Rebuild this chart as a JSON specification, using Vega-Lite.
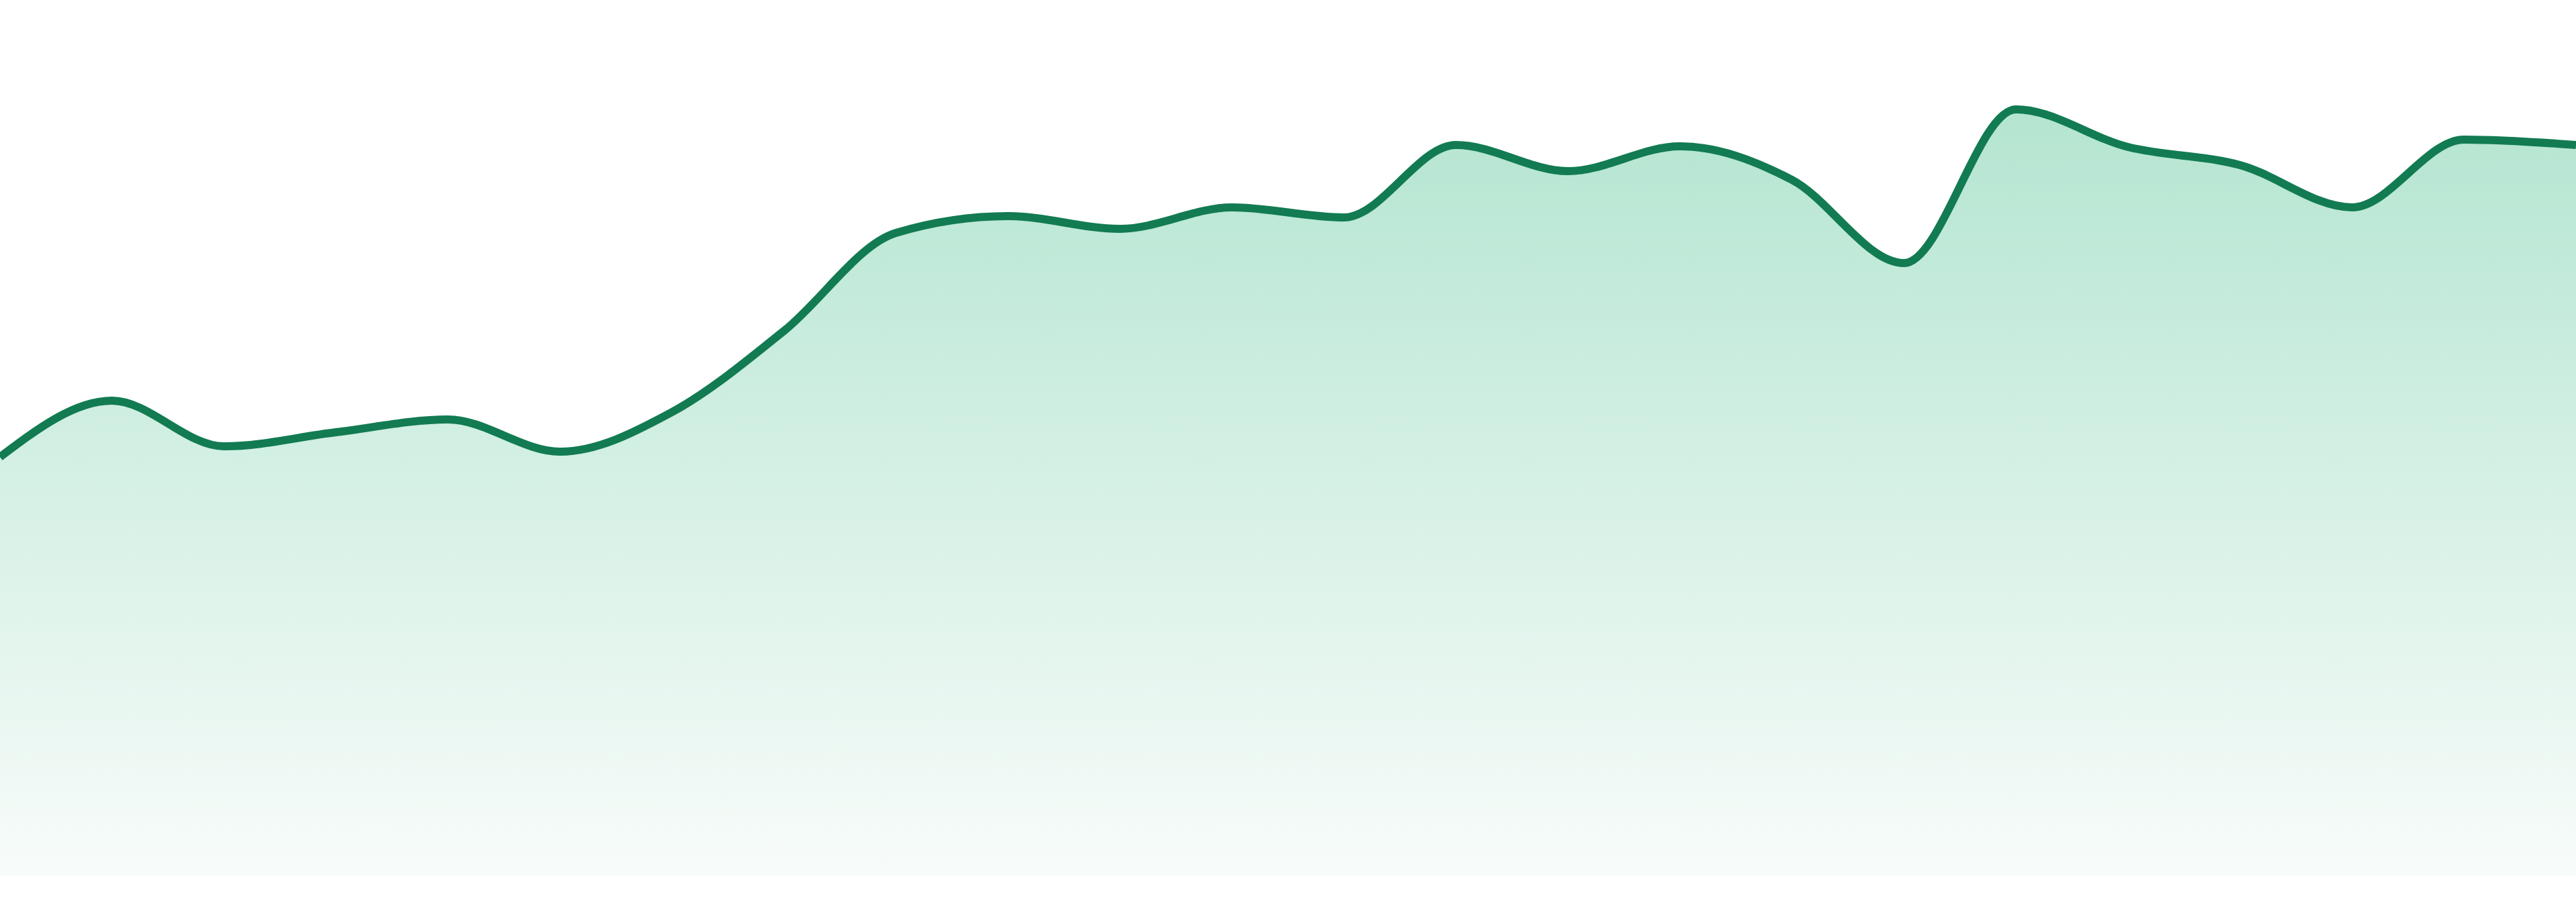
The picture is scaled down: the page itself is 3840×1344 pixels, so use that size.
{
  "$schema": "https://vega.github.io/schema/vega-lite/v6.json",
  "width": 3840,
  "height": 1344,
  "autosize": "none",
  "padding": 0,
  "background": "white",
  "config": {"view": {"stroke": null}},
  "data": {
    "values": [
      {"i": 0, "v": 624}, {"i": 1, "v": 708}, {"i": 2, "v": 640}, {"i": 3, "v": 661},
      {"i": 4, "v": 680}, {"i": 5, "v": 632}, {"i": 6, "v": 691}, {"i": 7, "v": 812},
      {"i": 8, "v": 958}, {"i": 9, "v": 983}, {"i": 10, "v": 964}, {"i": 11, "v": 996},
      {"i": 12, "v": 981}, {"i": 13, "v": 1089}, {"i": 14, "v": 1050}, {"i": 15, "v": 1087},
      {"i": 16, "v": 1037}, {"i": 17, "v": 913}, {"i": 18, "v": 1142}, {"i": 19, "v": 1086},
      {"i": 20, "v": 1059}, {"i": 21, "v": 996}, {"i": 22, "v": 1097}, {"i": 23, "v": 1089}
    ]
  },
  "encoding": {
    "x": {"field": "i", "type": "quantitative", "axis": null,
          "scale": {"domain": [0, 23], "nice": false, "zero": false}},
    "y": {"field": "v", "type": "quantitative", "axis": null,
          "scale": {"domain": [0, 1305], "range": [1305, 0], "nice": false}}
  },
  "layer": [
    {
      "mark": {
        "type": "area",
        "interpolate": "monotone",
        "color": {
          "gradient": "linear",
          "x1": 0, "y1": 0, "x2": 0, "y2": 1,
          "stops": [
            {"offset": 0, "color": "#b4e5d1"},
            {"offset": 1, "color": "#f8fcfa"}
          ]
        }
      }
    },
    {
      "mark": {"type": "line", "interpolate": "monotone", "color": "#127b52", "strokeWidth": 12}
    }
  ]
}
